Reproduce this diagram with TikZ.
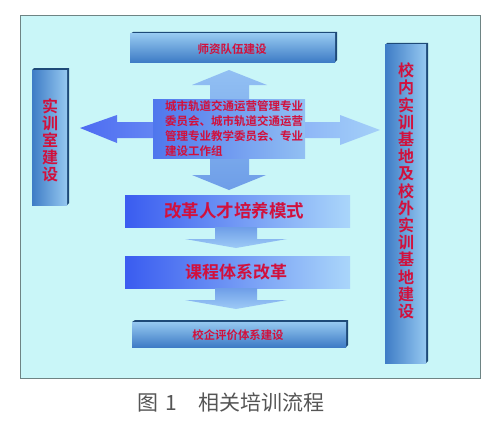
\documentclass[tikz,border=0pt]{standalone}
\usepackage{fontspec}
\newfontfamily\cjk{Noto Sans CJK SC}
\newfontfamily\cjkb{Noto Sans CJK SC Bold}
\usetikzlibrary{calc}
\definecolor{bgcyan}{HTML}{C9F6F8}
\definecolor{frame}{HTML}{6E8484}
\definecolor{deepblue}{HTML}{3A5CF0}
\definecolor{lightblue}{HTML}{AAD6FA}
\definecolor{midblue}{HTML}{6E9EE8}
\definecolor{bevtop}{HTML}{95C8F0}
\definecolor{bevbot}{HTML}{3E7CC6}
\definecolor{bevedge}{HTML}{1E4A78}
\definecolor{redtext}{HTML}{D2103C}
\definecolor{captiongray}{HTML}{555555}
\tikzset{
  x=1pt, y=-1pt,
  redlbl/.style={text=redtext, font=\cjkb, inner sep=0pt},
  flowbox/.style={left color=deepblue, right color=lightblue, draw=none},
  flowarrow/.style={top color=midblue, bottom color=lightblue!80!midblue, draw=none},
  bevelface/.style={top color=bevtop, bottom color=bevbot, draw=none},
  beveledge/.style={fill=bevedge, draw=none},
}
\begin{document}
\begin{tikzpicture}
\useasboundingbox (0,0) rectangle (500,420);
\fill[white] (0,0) rectangle (500,420);
% frame
\fill[bgcyan] (20,16) rectangle (480,378);
\draw[frame, line width=1pt] (20,16) rectangle (480,378);

% cross arrows
\shade[left color=deepblue!90, right color=lightblue!90!midblue]
  (80,128) -- (117,115) -- (117,122) -- (340,122) -- (340,115) -- (380,130)
  -- (340,145) -- (340,138) -- (117,138) -- (117,143) -- cycle;
\shade[top color=lightblue!60!midblue, bottom color=midblue]
  (229,70) -- (267,85) -- (249,85) -- (249,175) -- (266,175) -- (229,190)
  -- (192,175) -- (210,175) -- (210,85) -- (192,85) -- cycle;
\shade[left color=deepblue!60!midblue, right color=lightblue!60!midblue]
  (153,99) rectangle (305,158);
\node[redlbl, font=\cjkb\fontsize{11.5}{15}\selectfont, align=left, anchor=north west]
  (committee) at (165,100)
  {城市轨道交通运营管理专业\\委员会、城市轨道交通运营\\管理专业教学委员会、专业\\建设工作组};

% top bevel box
\fill[beveledge] (130,34) -- (133,32) -- (337,32) -- (337,60) -- (335,62) -- (335,34) -- cycle;
\shade[bevelface] (130,34) rectangle (335,62);
\node[redlbl, font=\cjkb\fontsize{11.5}{12}\selectfont] (teachers) at (232,49) {师资队伍建设};

% left bevel box
\fill[beveledge] (32,70) -- (34,68) -- (69,68) -- (69,203) -- (67,205) -- (67,70) -- cycle;
\shade[left color=bevbot, right color=bevtop] (32,70) rectangle (67,205);
\node[redlbl, font=\cjkb\fontsize{16}{17}\selectfont, align=center] (lab) at (50,140)
  {实\\训\\室\\建\\设};

% right bevel box
\fill[beveledge] (385,45) -- (387,43) -- (428,43) -- (428,361) -- (426,363) -- (426,45) -- cycle;
\shade[left color=bevbot, right color=bevtop] (385,45) rectangle (426,363);
\node[redlbl, font=\cjkb\fontsize{16}{17.2}\selectfont, align=center] (base) at (406,191)
  {校\\内\\实\\训\\基\\地\\及\\校\\外\\实\\训\\基\\地\\建\\设};

% flow boxes
\shade[flowbox] (125,195) rectangle (350,227);
\node[redlbl, font=\cjkb\fontsize{17.5}{18}\selectfont] (mode) at (234,211) {改革人才培养模式};
\shade[flowarrow] (215,227) -- (257,227) -- (257,239) -- (287,239) -- (236,248)
  -- (185,239) -- (215,239) -- cycle;
\shade[flowbox] (125,256) rectangle (350,288);
\node[redlbl, font=\cjkb\fontsize{17}{18}\selectfont] (course) at (236,272) {课程体系改革};
\shade[flowarrow] (215,288) -- (257,288) -- (257,300) -- (287,300) -- (236,309)
  -- (185,300) -- (215,300) -- cycle;

% bottom bevel box
\fill[beveledge] (132,322) -- (135,320) -- (348,320) -- (348,345) -- (346,347) -- (346,322) -- cycle;
\shade[bevelface] (132,322) rectangle (346,347);
\node[redlbl, font=\cjkb\fontsize{11.4}{12}\selectfont] (eval) at (238,335) {校企评价体系建设};

% caption
\node[text=captiongray, font=\cjk\fontsize{21}{22}\selectfont, inner sep=0pt] (cap) at (231,402)
  {图\hspace{0.35em}1\hspace{1em}相关培训流程};
\end{tikzpicture}
\end{document}
